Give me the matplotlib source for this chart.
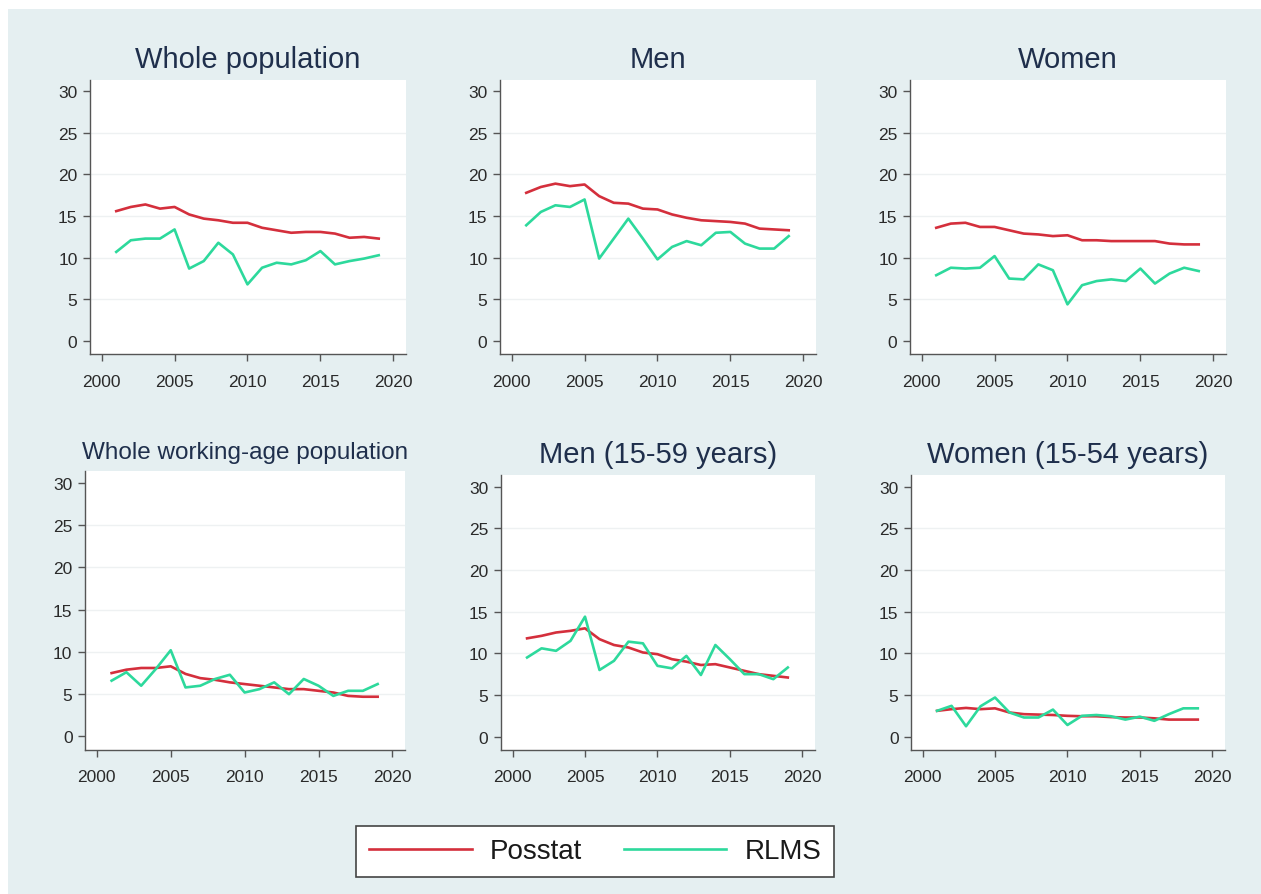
import matplotlib
matplotlib.use("Agg")
import matplotlib.pyplot as plt
from matplotlib.patches import Rectangle
import numpy as np

plt.rcParams["font.family"] = ["Liberation Sans", "DejaVu Sans"]

# survey years
years = list(range(2001, 2020))

# Posstat vs RLMS, per population group
whole_posstat = [15.6, 16.1, 16.4, 15.9, 16.1, 15.2, 14.7, 14.5, 14.2, 14.2,
                 13.6, 13.3, 13.0, 13.1, 13.1, 12.9, 12.4, 12.5, 12.3]
whole_rlms = [10.7, 12.1, 12.3, 12.3, 13.4, 8.7, 9.6, 11.8, 10.4, 6.8,
              8.8, 9.4, 9.2, 9.7, 10.8, 9.2, 9.6, 9.9, 10.3]

men_posstat = [17.8, 18.5, 18.9, 18.6, 18.8, 17.4, 16.6, 16.5, 15.9, 15.8,
               15.2, 14.8, 14.5, 14.4, 14.3, 14.1, 13.5, 13.4, 13.3]
men_rlms = [13.9, 15.5, 16.3, 16.1, 17.0, 9.9, 12.3, 14.7, 12.3, 9.8,
            11.3, 12.0, 11.5, 13.0, 13.1, 11.7, 11.1, 11.1, 12.6]

women_posstat = [13.6, 14.1, 14.2, 13.7, 13.7, 13.3, 12.9, 12.8, 12.6, 12.7,
                 12.1, 12.1, 12.0, 12.0, 12.0, 12.0, 11.7, 11.6, 11.6]
women_rlms = [7.9, 8.8, 8.7, 8.8, 10.2, 7.5, 7.4, 9.2, 8.5, 4.4,
              6.7, 7.2, 7.4, 7.2, 8.7, 6.9, 8.1, 8.8, 8.4]

wa_posstat = [7.5, 7.9, 8.1, 8.1, 8.3, 7.4, 6.9, 6.7, 6.4, 6.2,
              6.0, 5.8, 5.6, 5.6, 5.4, 5.2, 4.8, 4.7, 4.7]
wa_rlms = [6.6, 7.6, 6.0, 8.0, 10.2, 5.8, 6.0, 6.8, 7.3, 5.2,
           5.6, 6.4, 5.0, 6.8, 6.0, 4.8, 5.4, 5.4, 6.2]

men_wa_posstat = [11.8, 12.1, 12.5, 12.7, 13.0, 11.7, 11.0, 10.7, 10.1, 9.9,
                  9.3, 9.0, 8.6, 8.7, 8.3, 7.9, 7.5, 7.3, 7.1]
men_wa_rlms = [9.5, 10.6, 10.3, 11.5, 14.4, 8.0, 9.1, 11.4, 11.2, 8.5,
               8.2, 9.7, 7.4, 11.0, 9.3, 7.5, 7.5, 6.9, 8.3]

women_wa_posstat = [3.1, 3.3, 3.45, 3.3, 3.4, 2.9, 2.7, 2.65, 2.6, 2.5,
                    2.45, 2.45, 2.35, 2.3, 2.3, 2.2, 2.05, 2.05, 2.05]
women_wa_rlms = [3.1, 3.7, 1.25, 3.65, 4.7, 2.9, 2.3, 2.3, 3.25, 1.4,
                 2.5, 2.6, 2.45, 2.05, 2.4, 1.9, 2.7, 3.4, 3.4]

titles = ["Whole population", "Men", "Women",
          "Whole working-age population", "Men (15-59 years)", "Women (15-54 years)"]
series = [(whole_posstat, whole_rlms), (men_posstat, men_rlms),
          (women_posstat, women_rlms), (wa_posstat, wa_rlms),
          (men_wa_posstat, men_wa_rlms), (women_wa_posstat, women_wa_rlms)]

y_ticks = [0, 5, 10, 15, 20, 25, 30]
x_ticks = [2000, 2005, 2010, 2015, 2020]

W, H = 1261, 895
BG = "#e5eff1"
RED = "#d42f3c"
GREEN = "#2dd99c"
TITLE_COL = "#1f2f4c"
AXIS_COL = "#555555"

# panel boxes in pixels: left, top, right, bottom
boxes = [(90, 80.6, 405.7, 355.3), (500, 80.6, 815.7, 355.3), (910, 80.6, 1225.7, 355.3),
         (85, 472, 405, 751), (501, 476, 814.6, 751), (911, 476, 1224.6, 751)]
title_y = [60, 60, 60, 453, 455, 455]
title_size = [21, 21, 21, 17.5, 21, 21]

fig = plt.figure(figsize=(W / 100, H / 100), dpi=100)
fig.patch.set_facecolor("white")
fig.add_artist(Rectangle((8 / W, 0), 1 - 8 / W, 1 - 10 / H, transform=fig.transFigure,
                         facecolor=BG, edgecolor="none", zorder=0))

for i, (l, t, r, b) in enumerate(boxes):
    ax = fig.add_axes([l / W, 1 - b / H, (r - l) / W, (b - t) / H])
    ax.set_facecolor("white")
    pos, rlms = series[i]
    ax.plot(years, pos, color=RED, lw=1.9, zorder=3)
    ax.plot(years, rlms, color=GREEN, lw=1.9, zorder=3)

    ax.set_xlim(1999.2, 2020.85)
    ax.set_ylim(-1.6, 31.4)
    ax.set_xticks(x_ticks)
    ax.set_yticks(y_ticks)
    ax.grid(axis="y", color="#eef1f2", lw=1.0, zorder=1)
    gl = ax.get_ygridlines()
    gl[0].set_visible(False)
    gl[-1].set_visible(False)

    for s in ["top", "right"]:
        ax.spines[s].set_visible(False)
    for s in ["left", "bottom"]:
        ax.spines[s].set_color(AXIS_COL)
        ax.spines[s].set_linewidth(1.0)
    ax.tick_params(axis="both", colors=AXIS_COL, length=5, width=1,
                   labelsize=12.5, labelcolor="#2a2a2a")
    ax.tick_params(axis="x", pad=9)
    ax.tick_params(axis="y", pad=4)

    fig.text((l + r) / 2 / W, 1 - title_y[i] / H, titles[i], ha="center", va="center",
             fontsize=title_size[i], color=TITLE_COL)

# shared legend under the panels
h1, = plt.plot([], [], color=RED, lw=1.9)
h2, = plt.plot([], [], color=GREEN, lw=1.9)
leg = fig.legend([h1, h2], ["Posstat", "RLMS"], loc="center",
                 bbox_to_anchor=(595 / W, 1 - 852.5 / H), ncol=2, fontsize=20,
                 handlelength=3.7, handletextpad=0.65, columnspacing=1.5,
                 borderpad=0.45, fancybox=False, framealpha=1)
leg.get_frame().set_edgecolor("#444444")
leg.get_frame().set_linewidth(1.2)
for txt in leg.get_texts():
    txt.set_color("#1a1a1a")

fig.savefig("out.png", dpi=100, facecolor=fig.get_facecolor())
